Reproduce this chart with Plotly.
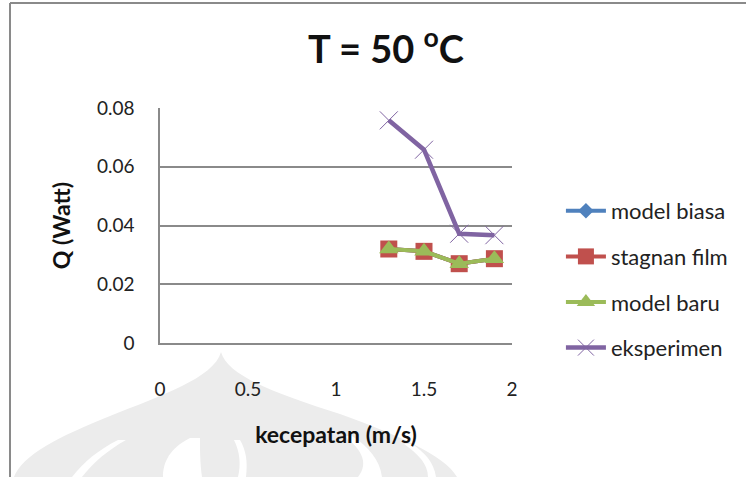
import plotly.graph_objects as go

kecepatan = [1.3, 1.5, 1.7, 1.9]
model_biasa = [0.0320, 0.0312, 0.0270, 0.0287]
stagnan_film = [0.0320, 0.0312, 0.0270, 0.0287]
model_baru = [0.0320, 0.0312, 0.0270, 0.0287]
eksperimen = [0.0758, 0.0658, 0.0372, 0.0367]

x_ticks = [0, 0.5, 1, 1.5, 2]
x_tick_labels = ["0", "0.5", "1", "1.5", "2"]
y_ticks = [0, 0.02, 0.04, 0.06, 0.08]
y_tick_labels = ["0", "0.02", "0.04", "0.06", "0.08"]

FONT = "Lato"
GRID = "#8a8a8a"

# plot area in pixels (for decorative layout shapes)
L, R, T, B = 160, 512, 108, 343
PW, PH = R - L, B - T


def px(xp):
    return (xp - L) / PW


def py(yp):
    return (B - yp) / PH


def pt(p):
    return f"{px(p[0]):.4f},{py(p[1]):.4f}"


def curve_path(start, segs):
    """segs: list of ('L', p) or ('C', c1, c2, p) or ('Q', c, p) in pixel coords"""
    s = "M " + pt(start)
    for sg in segs:
        s += " " + sg[0] + " " + " ".join(pt(q) for q in sg[1:])
    return s + " Z"


fig = go.Figure()
fig.add_trace(go.Scatter(x=kecepatan, y=model_biasa, name="model biasa", mode="lines+markers",
                         line=dict(color="#4F81BD", width=4),
                         marker=dict(symbol="diamond", size=12, color="#4F81BD"),
                         legendgroup="a"))
fig.add_trace(go.Scatter(x=kecepatan, y=stagnan_film, name="stagnan film", mode="lines+markers",
                         line=dict(color="#C0504D", width=4),
                         marker=dict(symbol="square", size=17, color="#C0504D"),
                         legendgroup="b"))
fig.add_trace(go.Scatter(x=kecepatan, y=model_baru, name="model baru", mode="lines+markers",
                         line=dict(color="#9BBB59", width=4),
                         marker=dict(symbol="triangle-up", size=17, color="#9BBB59"),
                         legendgroup="c"))
fig.add_trace(go.Scatter(x=kecepatan, y=eksperimen, name="eksperimen", mode="lines+markers",
                         line=dict(color="#8064A2", width=4.5),
                         marker=dict(symbol="x-thin-open", size=18, color="#8064A2",
                                     line=dict(color="#8064A2", width=1)),
                         legendgroup="d"))

fig.update_layout(
    width=746, height=477,
    margin=dict(l=L, r=746 - R, t=T, b=477 - B),
    paper_bgcolor="white", plot_bgcolor="rgba(0,0,0,0)",
    font=dict(family=FONT, color="#222222"),
    title=dict(text="<b>T = 50 <sup>o</sup>C</b>", x=386 / 746, xanchor="center",
               y=1 - 50 / 477, yanchor="middle", font=dict(size=38, color="#111111")),
    showlegend=True,
    legend=dict(x=1.139, xanchor="left", y=1 - (190 - 108) / 235, yanchor="top",
                font=dict(size=22, color="#222222"), tracegroupgap=14,
                bgcolor="rgba(0,0,0,0)", itemwidth=40),
    xaxis=dict(range=[0, 2], tickvals=x_ticks, ticktext=x_tick_labels,
               showgrid=False, showline=True, linecolor=GRID, linewidth=1.5,
               ticks="", zeroline=False, tickfont=dict(size=19, color="#222222"),
               ticklabelstandoff=28,
               title=dict(text="<b>kecepatan (m/s)</b>", font=dict(size=23, color="#111111"), standoff=28)),
    yaxis=dict(range=[0, 0.08], tickvals=y_ticks, ticktext=y_tick_labels,
               showgrid=True, gridcolor=GRID, gridwidth=1.5,
               showline=True, linecolor=GRID, linewidth=1.5, zeroline=False,
               ticks="", tickfont=dict(size=19, color="#222222"), ticklabelstandoff=20,
               title=dict(text="<b>Q (Watt)</b>", font=dict(size=23, color="#111111"), standoff=20)),
)

# faint watermark (onion-dome logo) at the bottom
WM = "#ececec"
dome = curve_path((221, 352), [
    ("C", (214, 378), (160, 396), (110, 416)),
    ("C", (60, 436), (22, 455), (14, 477)),
    ("L", (457, 477)),
    ("C", (445, 455), (395, 434), (340, 414)),
    ("C", (285, 396), (228, 378), (221, 352)),
])
fig.add_shape(type="path", xref="paper", yref="paper", path=dome,
              fillcolor=WM, line=dict(width=0), layer="below")
# white separations between the petals
gaps = [
    curve_path((190, 438), [("C", (170, 448), (163, 462), (163, 477)), ("L", (202, 477)),
                            ("C", (200, 462), (200, 450), (200, 438))]),
    curve_path((234, 440), [("C", (240, 452), (241, 465), (238, 477)), ("L", (246, 477)),
                            ("C", (248, 462), (246, 450), (240, 440))]),
    curve_path((344, 436), [("C", (360, 448), (370, 462), (358, 477)), ("L", (382, 477)),
                            ("C", (380, 460), (368, 446), (352, 436))]),
    curve_path((118, 440), [("C", (98, 450), (84, 462), (72, 477)), ("L", (82, 477)),
                            ("C", (94, 462), (108, 450), (126, 440))]),
    curve_path((404, 444), [("C", (418, 454), (428, 464), (428, 477)), ("L", (436, 477)),
                            ("C", (434, 462), (424, 452), (412, 444))]),
]
for g in gaps:
    fig.add_shape(type="path", xref="paper", yref="paper", path=g,
                  fillcolor="white", line=dict(width=0), layer="below")

# chart frame (top and left edges visible)
fig.add_shape(type="line", xref="paper", yref="paper",
              x0=px(10), x1=px(746), y0=py(3), y1=py(3),
              line=dict(color="#8a8a8a", width=2))
fig.add_shape(type="line", xref="paper", yref="paper",
              x0=px(10), x1=px(10), y0=py(3), y1=py(477),
              line=dict(color="#8a8a8a", width=2))

fig.write_html("out.html")
